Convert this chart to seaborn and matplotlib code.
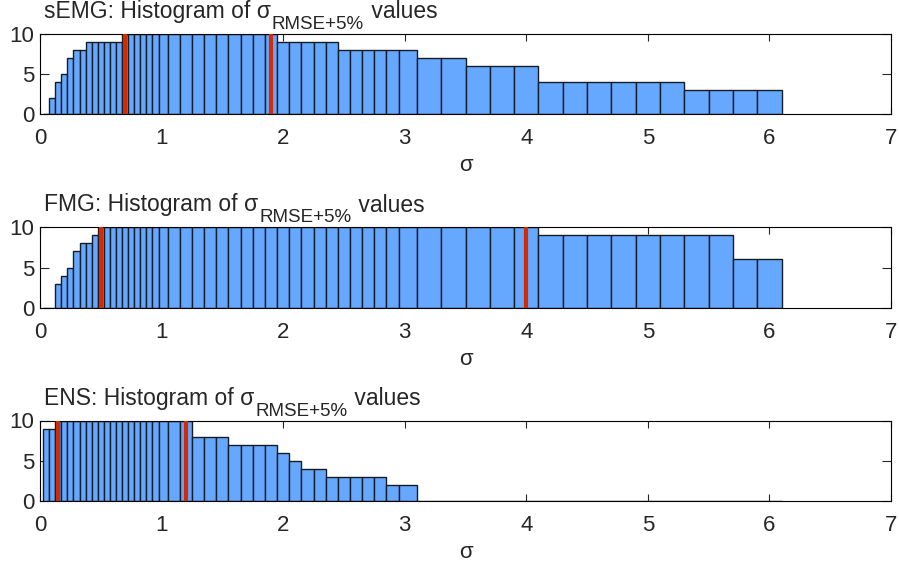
import numpy as np
import pandas as pd
import matplotlib
matplotlib.use("Agg")
import matplotlib.pyplot as plt
import seaborn as sns

# Bin centres of the sigma grid (non-uniform spacing)
centers = [0.05, 0.10, 0.15, 0.20, 0.25, 0.30, 0.35, 0.40, 0.45, 0.50,
           0.55, 0.60, 0.65, 0.70, 0.75, 0.80, 0.85, 0.90, 0.95, 1.00,
           1.1, 1.2, 1.3, 1.4, 1.5, 1.6, 1.7, 1.8, 1.9, 2.0,
           2.1, 2.2, 2.3, 2.4, 2.5, 2.6, 2.7, 2.8, 2.9, 3.0,
           3.2, 3.4, 3.6, 3.8, 4.0, 4.2, 4.4, 4.6, 4.8, 5.0,
           5.2, 5.4, 5.6, 5.8, 6.0]

semg_counts = [0, 2, 4, 5, 7, 8, 8, 9, 9, 9,
               9, 9, 9, 10, 10, 10, 10, 10, 10, 10,
               10, 10, 10, 10, 10, 10, 10, 10, 10, 9,
               9, 9, 9, 9, 8, 8, 8, 8, 8, 8,
               7, 7, 6, 6, 6, 4, 4, 4, 4, 4,
               4, 3, 3, 3, 3]

fmg_counts = [0, 0, 3, 4, 5, 7, 8, 8, 9, 10,
              10, 10, 10, 10, 10, 10, 10, 10, 10, 10,
              10, 10, 10, 10, 10, 10, 10, 10, 10, 10,
              10, 10, 10, 10, 10, 10, 10, 10, 10, 10,
              10, 10, 10, 10, 10, 9, 9, 9, 9, 9,
              9, 9, 9, 6, 6]

ens_counts = [9, 9, 10, 10, 10, 10, 10, 10, 10, 10,
              10, 10, 10, 10, 10, 10, 10, 10, 10, 10,
              10, 10, 8, 8, 8, 7, 7, 7, 7, 6,
              5, 4, 4, 3, 3, 3, 3, 3, 2, 2,
              0, 0, 0, 0, 0, 0, 0, 0, 0, 0,
              0, 0, 0, 0, 0]

# Marker positions (red vertical lines) per panel
semg_marks = [0.7, 1.9]
fmg_marks = [0.5, 4.0]
ens_marks = [0.15, 1.2]

names = ["sEMG", "FMG", "ENS"]
x_ticks = [0, 1, 2, 3, 4, 5, 6, 7]
y_ticks = [0, 5, 10]

sns.set_style("ticks")
plt.rcParams["font.family"] = ["Liberation Sans", "DejaVu Sans"]


def bin_edges(c):
    c = np.asarray(c, dtype=float)
    mids = (c[:-1] + c[1:]) / 2
    first = c[0] - (c[1] - c[0]) / 2
    last = c[-1] + (c[-1] - c[-2]) / 2
    return [float(v) for v in np.concatenate([[first], mids, [last]])]


edges = bin_edges(centers)

W, H = 899, 567
fig = plt.figure(figsize=(W / 100, H / 100), dpi=100)
renderer = fig.canvas.get_renderer()

# axes boxes in pixels: (left, top, right, bottom)
boxes = [(40, 34, 891, 114.3), (40, 227.3, 891, 307.7), (40, 420.5, 891, 501)]
series = [semg_counts, fmg_counts, ens_counts]
marks = [semg_marks, fmg_marks, ens_marks]

bar_color = "#66A8FF"
edge_color = "#141c26"
red = "#D42A00"
fs = 16
fs_title = 16.5
fs_sub = 13.5


def draw_title(name, top_px):
    """Title with a larger-than-mathtext subscript, laid out piece by piece."""
    yb = H - (top_px - 15.8)
    t1 = fig.text(44 / W, yb / H, name + ": Histogram of σ",
                  fontsize=fs_title, va="baseline", ha="left")
    x1 = t1.get_window_extent(renderer).x1
    t2 = fig.text((x1 + 1) / W, (yb - 11) / H, "RMSE+5%",
                  fontsize=fs_sub, va="baseline", ha="left")
    x2 = t2.get_window_extent(renderer).x1
    fig.text((x2 + 1) / W, yb / H, " values", fontsize=fs_title,
             va="baseline", ha="left")


for name, counts, mk, (l, t, r, b) in zip(names, series, marks, boxes):
    ax = fig.add_axes([l / W, 1 - b / H, (r - l) / W, (b - t) / H])
    df = pd.DataFrame({"sigma": centers, "count": counts})
    sns.histplot(data=df, x="sigma", weights="count", bins=edges,
                 stat="count", color=bar_color, edgecolor=edge_color,
                 linewidth=1.0, alpha=1.0, ax=ax)
    for m in mk:
        ax.axvline(m, color=red, linewidth=3.0, zorder=5)
    ax.set_xlim(0, 7)
    ax.set_ylim(0, 10)
    ax.set_xticks(x_ticks)
    ax.set_yticks(y_ticks)
    ax.set_ylabel("")
    ax.set_xlabel("σ", fontsize=fs, labelpad=4.5)
    ax.tick_params(axis="x", direction="in", length=5, width=0.8,
                   labelsize=fs, top=True, pad=10)
    ax.tick_params(axis="y", direction="in", length=6.5, width=0.8,
                   labelsize=fs, right=True, pad=4)
    for s in ax.spines.values():
        s.set_visible(True)
        s.set_linewidth(0.8)
        s.set_color("black")
    draw_title(name, t)

fig.savefig("out.png", dpi=100, facecolor="white")
